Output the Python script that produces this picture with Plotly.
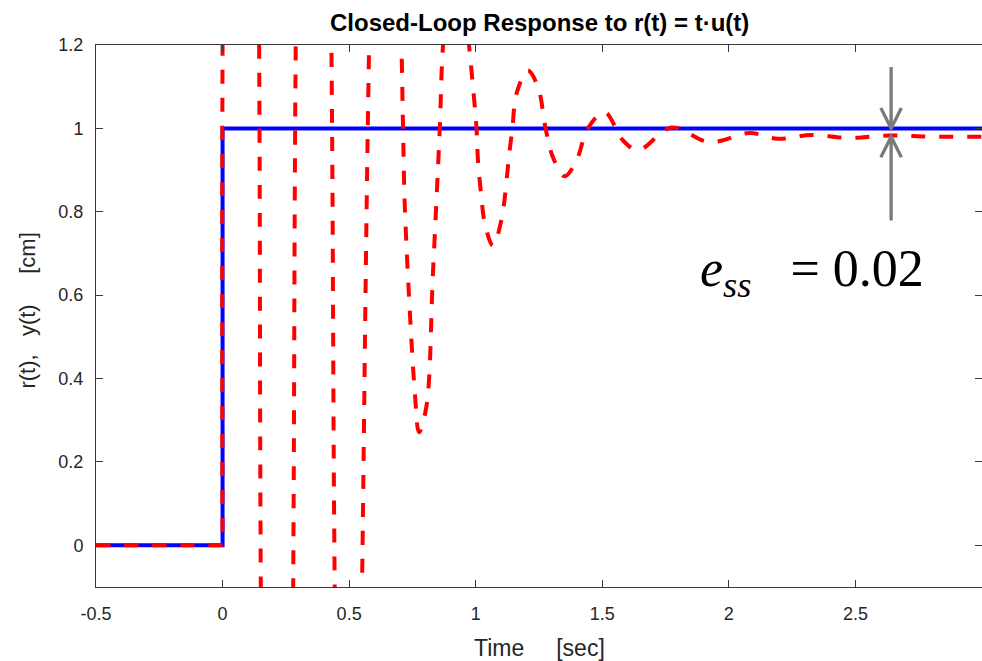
import plotly.graph_objects as go

# ---- data ----
t_ref = [-0.5, 0.0, 0.0, 3.0]
r_ref = [0.0, 0.0, 1.0, 1.0]

t_resp = [-0.5, 0.0, 0.0, 0.0, 0.072, 0.1445, 0.151, 0.217, 0.279, 0.289,
          0.357, 0.430, 0.443, 0.496, 0.551, 0.579, 0.640, 0.7067, 0.713, 0.720,
          0.746, 0.759, 0.776, 0.805, 0.831, 0.858, 0.871, 0.921, 0.9735, 1.003,
          1.009, 1.0225, 1.036, 1.068, 1.101, 1.134, 1.145, 1.161, 1.206, 1.246,
          1.276, 1.305, 1.351, 1.398, 1.443, 1.509, 1.582, 1.642, 1.774, 1.924,
          2.082, 2.192, 2.326, 2.476, 2.634, 2.80, 3.0]
y_resp = [0.0, 0.0, 0.0, 1.2, 7.5, 1.2, -0.1, -5.5, -0.1, 1.2,
          5.0, 1.2, -0.1, -2.8, -0.1, 1.2, 2.9, 1.2, 1.0, 0.811,
          0.492, 0.372, 0.271, 0.332, 0.652, 1.0, 1.2, 1.5, 1.2, 1.0,
          0.923, 0.835, 0.772, 0.719, 0.779, 0.947, 1.0, 1.083, 1.139, 1.099,
          1.0, 0.931, 0.885, 0.923, 1.0, 1.039, 0.971, 0.948, 1.002, 0.967,
          0.989, 0.975, 0.984, 0.977, 0.983, 0.980, 0.980]

x_ticks = [-0.5, 0, 0.5, 1, 1.5, 2, 2.5]
x_ticktext = ["-0.5", "0", "0.5", "1", "1.5", "2", "2.5"]
y_ticks = [0, 0.2, 0.4, 0.6, 0.8, 1.0, 1.2]
y_ticktext = ["0", "0.2", "0.4", "0.6", "0.8", "1", "1.2"]

r_final = 1.0
y_final = 0.98
ess_t = 2.641

NB = "\u00a0"
title_text = "<b>Closed-Loop Response to r(t) = t\u00b7u(t)</b>"
xlabel = "Time" + NB * 5 + "[sec]"
ylabel = "r(t)," + NB * 3 + "y(t)" + NB * 5 + "[cm]"

TXT = "#262626"
AX = "#3a3a3a"
SANS = "Liberation Sans, Arial, sans-serif"

fig = go.Figure()
fig.add_trace(go.Scatter(x=t_ref, y=r_ref, mode="lines",
                         line=dict(color="#0000ff", width=4),
                         showlegend=False, hoverinfo="skip"))
fig.add_trace(go.Scatter(x=t_resp, y=y_resp, mode="lines",
                         line=dict(color="#ff0000", width=4, dash="14px,14px",
                                   shape="spline", smoothing=1.0),
                         showlegend=False, hoverinfo="skip"))

# arrows marking the steady-state error
wx = 0.0405   # half width of arrow head (t units)
wy = 0.049    # height of arrow head (y units)
up_tail = 1.147
lo_tail = 0.779
arrow_path_top = (f"M {ess_t},{up_tail} L {ess_t},{r_final} "
                  f"M {ess_t-wx},{r_final+wy} L {ess_t},{r_final} L {ess_t+wx},{r_final+wy}")
arrow_path_bot = (f"M {ess_t},{lo_tail} L {ess_t},{y_final} "
                  f"M {ess_t-wx},{y_final-wy} L {ess_t},{y_final} L {ess_t+wx},{y_final-wy}")
for p in (arrow_path_top, arrow_path_bot):
    fig.add_shape(type="path", path=p, xref="x", yref="y",
                  line=dict(color="#7a7a7a", width=3.3), layer="above")

ess_text = ("<i>e</i><sub><i>ss</i></sub>" + NB * 3 + "=" + NB +
            f"{r_final - y_final:.2f}")
fig.add_annotation(x=2.327, y=0.655, xref="x", yref="y", text=ess_text,
                   showarrow=False, xanchor="center", yanchor="middle",
                   font=dict(family="Liberation Serif, DejaVu Serif, serif", size=52, color="#000000"))

fig.add_annotation(x=0.5, y=1.0424, xref="paper", yref="paper", text=title_text,
                   showarrow=False, xanchor="center", yanchor="middle",
                   font=dict(family=SANS, size=24, color="#000000"))
fig.add_annotation(x=0.5, y=-0.1125, xref="paper", yref="paper", text=xlabel,
                   showarrow=False, xanchor="center", yanchor="middle",
                   font=dict(family=SANS, size=23, color=TXT))
fig.add_annotation(x=-0.0767, y=0.51, xref="paper", yref="paper", text=ylabel,
                   showarrow=False, xanchor="center", yanchor="middle", textangle=-90,
                   font=dict(family=SANS, size=22, color=TXT))

fig.update_xaxes(range=[-0.5, 3.0], tickvals=x_ticks, ticktext=x_ticktext,
                 ticks="inside", ticklen=7, tickwidth=1, tickcolor=AX,
                 showline=True, linecolor=AX, linewidth=1, mirror="ticks",
                 showgrid=False, zeroline=False, ticklabelstandoff=10,
                 tickfont=dict(family=SANS, size=18, color=TXT))
fig.update_yaxes(range=[-0.1, 1.2], tickvals=y_ticks, ticktext=y_ticktext,
                 ticks="inside", ticklen=7, tickwidth=1, tickcolor=AX,
                 showline=True, linecolor=AX, linewidth=1, mirror="ticks",
                 showgrid=False, zeroline=False, ticklabelstandoff=8,
                 tickfont=dict(family=SANS, size=18, color=TXT))

fig.update_layout(width=982, height=661, margin=dict(l=96, r=0, t=45, b=74),
                  paper_bgcolor="white", plot_bgcolor="white", showlegend=False)

fig.write_html("out.html")
